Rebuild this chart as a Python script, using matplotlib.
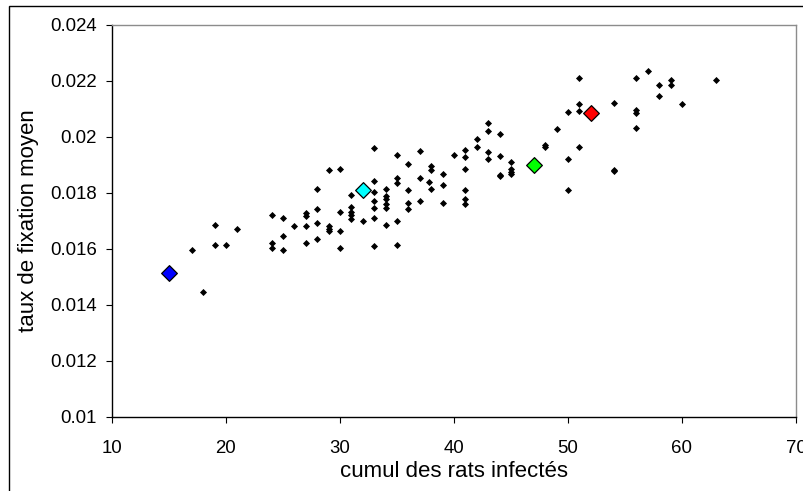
import matplotlib
matplotlib.use("Agg")
import matplotlib.pyplot as plt
from matplotlib.patches import Rectangle
from matplotlib.ticker import FuncFormatter

plt.rcParams['font.family'] = ['Liberation Sans', 'DejaVu Sans']

# black points: cumul des rats infectés (x) and taux de fixation moyen (y)
rats_x = [17, 18, 19, 19, 20, 21,
          24, 24, 24, 25, 25, 25, 26,
          27, 27, 27, 27, 28, 28, 28, 28,
          29, 29, 29, 29, 30, 30, 30, 30,
          31, 31, 31, 31, 31, 32,
          33, 33, 33, 33, 33, 33, 33,
          34, 34, 34, 34, 34, 34,
          35, 35, 35, 35, 35,
          36, 36, 36, 36, 37, 37, 37, 37.8,
          38, 38, 38, 39, 39, 39, 40,
          41, 41, 41, 41, 41, 41, 42, 42,
          43, 43, 43, 43, 44, 44, 44, 44,
          45, 45, 45, 45, 48, 48, 49,
          50, 50, 50, 51, 51, 51, 51,
          54, 54, 54, 56, 56, 56, 56, 57,
          58, 58, 59, 59, 60, 63]
taux_y = [0.01597, 0.01446, 0.01686, 0.01613, 0.01613, 0.0167,
          0.0172, 0.01621, 0.01601, 0.01708, 0.01646, 0.01597, 0.01682,
          0.01726, 0.01717, 0.0168, 0.01619, 0.01815, 0.01741, 0.01692, 0.01636,
          0.0188, 0.01681, 0.01672, 0.01663, 0.01886, 0.01731, 0.01664, 0.01603,
          0.01791, 0.01749, 0.01731, 0.0172, 0.01705, 0.01698,
          0.0196, 0.01842, 0.01803, 0.01771, 0.01747, 0.01709, 0.01609,
          0.01815, 0.01789, 0.01777, 0.01761, 0.01747, 0.01686,
          0.01933, 0.01851, 0.01833, 0.01698, 0.01615,
          0.01904, 0.01809, 0.01765, 0.01741, 0.01949, 0.01854, 0.01771, 0.01838,
          0.01896, 0.0188, 0.01815, 0.01866, 0.01829, 0.01764, 0.01933,
          0.01952, 0.01928, 0.01883, 0.01809, 0.01777, 0.01759, 0.01993, 0.01963,
          0.02049, 0.02019, 0.01946, 0.01919, 0.0201, 0.01931, 0.01865, 0.01859,
          0.01911, 0.01883, 0.01875, 0.01868, 0.01972, 0.01965, 0.02027,
          0.02088, 0.01921, 0.01809, 0.02211, 0.02116, 0.02093, 0.01965,
          0.02122, 0.01882, 0.01876, 0.02211, 0.02094, 0.02086, 0.02031, 0.02233,
          0.02184, 0.02144, 0.02201, 0.02184, 0.02116, 0.02204]

# highlighted points
hl_x = [15, 32, 47, 52.06]
hl_y = [0.01513, 0.01809, 0.01898, 0.02083]
hl_colors = ['#0000FF', '#00FFFF', '#00FF00', '#FF0000']

x_ticks = [10, 20, 30, 40, 50, 60, 70]
y_ticks = [0.01, 0.012, 0.014, 0.016, 0.018, 0.02, 0.022, 0.024]

fig = plt.figure(figsize=(8.04, 4.91), dpi=100)
ax = fig.add_axes([112/804, (491-416.7)/491, (796-112)/804, (416.7-24.7)/491])

ax.scatter(rats_x, taux_y, marker='D', s=3.6**2, color='black', linewidths=0, zorder=3)
for x, y, c in zip(hl_x, hl_y, hl_colors):
    ax.scatter([x], [y], marker='D', s=8.0**2, color=c, edgecolors='black',
               linewidths=0.9, zorder=4)

ax.set_xlim(10, 70)
ax.set_ylim(0.01, 0.024)
ax.set_xticks(x_ticks)
ax.set_yticks(y_ticks)
ax.yaxis.set_major_formatter(FuncFormatter(lambda v, p: '%g' % v))
ax.xaxis.set_major_formatter(FuncFormatter(lambda v, p: '%g' % v))

for s in ['top', 'right']:
    ax.spines[s].set_color('#8c8c8c')
    ax.spines[s].set_linewidth(1.0)
for s in ['left', 'bottom']:
    ax.spines[s].set_color('black')
    ax.spines[s].set_linewidth(1.0)

ax.tick_params(axis='both', direction='out', length=4.5, width=0.8, color='black',
               labelsize=13.4, labelcolor='black')
ax.tick_params(axis='x', pad=12)
ax.tick_params(axis='y', pad=6.5)

ax.set_xlabel('cumul des rats infectés', fontsize=16, labelpad=3)
ax.set_ylabel('taux de fixation moyen', fontsize=16, labelpad=8)

# outer chart border
fig.patches.append(Rectangle((9/804, -0.2), 1.2, (491-6)/491 + 0.2,
                             transform=fig.transFigure, fill=False,
                             edgecolor='black', linewidth=1.0))

fig.savefig('out.png', dpi=100)
